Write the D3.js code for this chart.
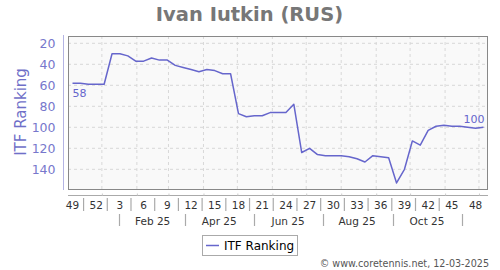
<!DOCTYPE html>
<html>
<head>
<meta charset="utf-8">
<script src="https://cdn.jsdelivr.net/npm/d3@7"></script>
<style>
  body { margin: 0; background: #fff; }
  svg text { font-family: "DejaVu Sans", sans-serif; }
</style>
</head>
<body>
<div id="chart"></div>
<script>
// week numbers of each weekly ranking (Dec 2024 -> Dec 2025)
let weeks = [49, 50, 51, 52, 1, 2, 3, 4, 5, 6, 7, 8, 9, 10, 11, 12, 13, 14, 15, 16, 17, 18, 19, 20, 21, 22,
  23, 24, 25, 26, 27, 28, 29, 30, 31, 32, 33, 34, 35, 36, 37, 38, 39, 40, 41, 42, 43, 44, 45, 46, 47, 48, 49];
let ranking = [58, 58, 59, 59, 59, 30, 30, 32, 37, 37, 34, 36, 36, 41, 43, 45, 47, 45, 46, 49, 49, 87, 90, 89,
  89, 86, 86, 86, 78, 124, 120, 126, 127, 127, 127, 128, 130, 133, 127, 128, 129, 153, 140, 113, 117, 103, 99,
  98, 99, 99, 100, 101, 100];
let yTicks = [20, 40, 60, 80, 100, 120, 140];
let monthLabels = ["Feb 25", "Apr 25", "Jun 25", "Aug 25", "Oct 25"];
let firstWeek = new Date(Date.UTC(2024, 11, 6));
let seriesName = "ITF Ranking";
let title = "Ivan Iutkin (RUS)";

const W = 500, H = 270;
const plot = {left: 68, right: 488, top: 36, bottom: 190};
const lineColor = "#6666cc";

let dates = weeks.map((w, i) => d3.utcDay.offset(firstWeek, i * 7));

var svg = d3.select("#chart").append("svg")
  .attr("width", W).attr("height", H);

const x = d3.scaleUtc()
  .domain([new Date(Date.UTC(2024, 11, 2)), new Date(Date.UTC(2025, 11, 9))])
  .range([plot.left, plot.right]);
const y = d3.scaleLinear()
  .domain([13.05, 159.7])
  .range([plot.top, plot.bottom]);

// title
svg.append("text")
  .attr("x", 249.5).attr("y", 20.5)
  .attr("text-anchor", "middle")
  .style("font-weight", "bold").style("font-size", "19.5px")
  .attr("fill", "#777")
  .text(title);

// plot background
svg.append("rect")
  .attr("x", plot.left).attr("y", plot.top)
  .attr("width", plot.right - plot.left).attr("height", plot.bottom - plot.top)
  .attr("fill", "#f9f9f9");

// grid
let monthStarts = d3.utcMonth.range(x.domain()[0], x.domain()[1]);
svg.append("g").selectAll("line")
  .data(monthStarts).enter().append("line")
  .attr("x1", d => x(d)).attr("x2", d => x(d))
  .attr("y1", plot.top).attr("y2", plot.bottom)
  .attr("stroke", "#d8d8d8").attr("stroke-dasharray", "3,3");
svg.append("g").selectAll("line")
  .data(yTicks).enter().append("line")
  .attr("x1", plot.left).attr("x2", plot.right)
  .attr("y1", d => y(d)).attr("y2", d => y(d))
  .attr("stroke", "#d8d8d8").attr("stroke-dasharray", "3,3");

// frame
svg.append("rect")
  .attr("x", plot.left + 0.5).attr("y", plot.top + 0.5)
  .attr("width", plot.right - plot.left - 1).attr("height", plot.bottom - plot.top - 1)
  .attr("fill", "none").attr("stroke", "#888");

// y axis
var yAxis = svg.append("g")
  .attr("transform", "translate(63.5,0)")
  .call(d3.axisLeft(y).tickValues(yTicks).tickSize(0).tickPadding(8));
yAxis.select(".domain").attr("d", `M0,${plot.top - 1}V${plot.bottom}`).attr("stroke", "#b4b4e4");
yAxis.selectAll("text")
  .style("font-size", "12.5px").attr("fill", "#7777cc");

svg.append("text")
  .attr("transform", `translate(26,112) rotate(-90)`)
  .attr("text-anchor", "middle")
  .style("font-size", "15px")
  .attr("fill", "#6f6fc8")
  .text("ITF " + "Ranking");

// x axis line with month ticks
var xAxis = svg.append("g")
  .attr("transform", "translate(0,195.5)")
  .call(d3.axisTop(x).tickValues(monthStarts).tickSize(2).tickFormat(""));
xAxis.select(".domain").attr("d", `M${plot.left},0H${plot.right}`).attr("stroke", "#aaa");
xAxis.selectAll(".tick line").attr("stroke", "#ccc");

// week labels
let labelIdx = weeks.map((w, i) => i).filter(i => i % 3 === 0 && i < weeks.length - 1);
svg.append("g").selectAll("text")
  .data(labelIdx).enter().append("text")
  .attr("x", i => x(dates[i])).attr("y", 208.5)
  .attr("text-anchor", "middle")
  .style("font-size", "10.5px").attr("fill", "#333")
  .text(i => weeks[i]);
svg.append("g").selectAll("line")
  .data(labelIdx.filter(i => i < 48)).enter().append("line")
  .attr("x1", i => x(d3.utcHour.offset(dates[i], 24 * 9.8)))
  .attr("x2", i => x(d3.utcHour.offset(dates[i], 24 * 9.8)))
  .attr("y1", 198).attr("y2", 211)
  .attr("stroke", "#aaa").attr("stroke-width", 1.2);

// month labels
let monthSeps = d3.utcMonth.every(2).range(new Date(Date.UTC(2025, 0, 1)), new Date(Date.UTC(2025, 11, 31)))
  .map(d => d3.utcDay.offset(d, 15));
svg.append("g").selectAll("line")
  .data(monthSeps).enter().append("line")
  .attr("x1", d => Math.round(x(d)) + 0.5).attr("x2", d => Math.round(x(d)) + 0.5)
  .attr("y1", 214).attr("y2", 226)
  .attr("stroke", "#aaa").attr("stroke-width", 1.2);
svg.append("g").selectAll("text")
  .data(monthLabels).enter().append("text")
  .attr("x", (d, i) => x(d3.utcDay.offset(monthSeps[i], 30)))
  .attr("y", 224.5)
  .attr("text-anchor", "middle")
  .style("font-size", "10.5px").attr("fill", "#333")
  .text(d => d);

// ranking line
var line = d3.line()
  .x((d, i) => x(dates[i]))
  .y(d => y(d));
svg.append("path")
  .datum(ranking)
  .attr("d", line)
  .attr("fill", "none")
  .attr("stroke", lineColor).attr("stroke-width", 1.5)
  .attr("stroke-linejoin", "round");

// first / last value labels
let last = ranking.length - 1;
svg.append("text")
  .attr("x", x(dates[0])).attr("y", y(ranking[0]) + 13.5)
  .style("font-size", "11px").attr("fill", lineColor)
  .text(ranking[0]);
svg.append("text")
  .attr("x", x(dates[last]) + 1).attr("y", y(ranking[last]) - 4)
  .attr("text-anchor", "end")
  .style("font-size", "11px").attr("fill", lineColor)
  .text(ranking[last]);

// legend
var legend = svg.append("g");
legend.append("rect")
  .attr("x", 202.5).attr("y", 235.5).attr("width", 95).attr("height", 20)
  .attr("fill", "#fff").attr("stroke", "#aaa");
legend.append("line")
  .attr("x1", 206).attr("x2", 219).attr("y1", 245.5).attr("y2", 245.5)
  .attr("stroke", lineColor).attr("stroke-width", 1.5);
legend.append("text")
  .attr("x", 224).attr("y", 250)
  .style("font-size", "12px").attr("fill", "#000")
  .text(seriesName);

// copyright
svg.append("text")
  .attr("x", 489).attr("y", 266.5)
  .attr("text-anchor", "end")
  .style("font-size", "9.6px").attr("fill", "#555")
  .text("\u00a9 www.coretennis.net, 12-03-2025");
</script>
</body>
</html>
